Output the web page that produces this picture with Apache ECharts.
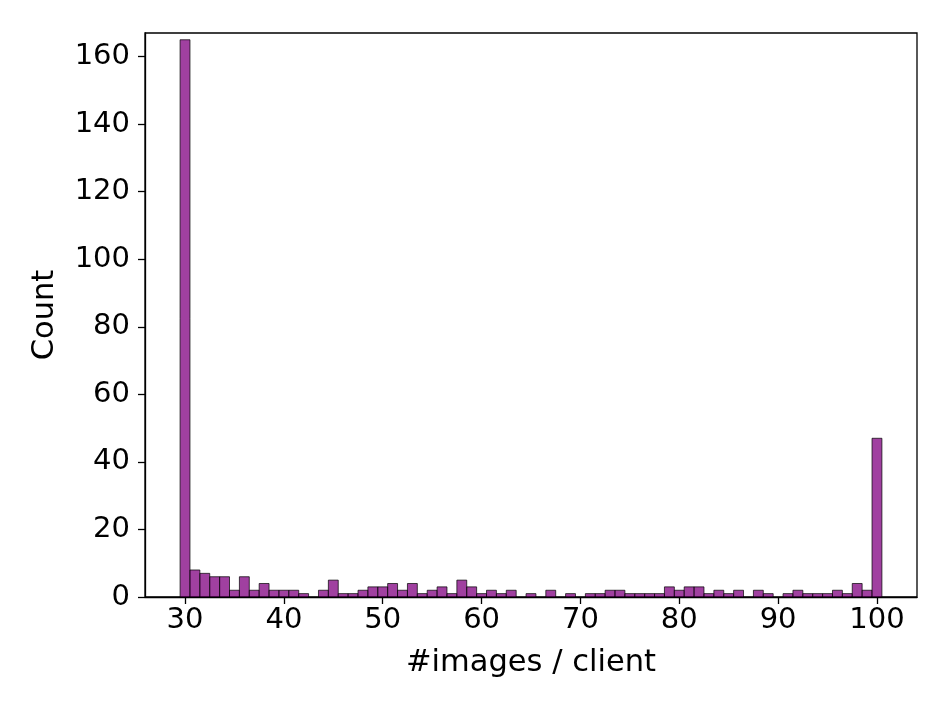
<!DOCTYPE html>
<html>
<head>
<meta charset="utf-8">
<script src="https://cdn.jsdelivr.net/npm/echarts@6/dist/echarts.min.js"></script>
<style>
html,body{margin:0;padding:0;background:#fff;}
#chart{width:951px;height:713px;}
</style>
</head>
<body>
<div id="chart"></div>
<script>
// Histogram bins centred on integer #images values (bin width 1)
const binCenters = [];
for (let v = 30; v <= 100; v++) binCenters.push(v);
const counts = [
  165, 8, 7, 6, 6, 2, 6, 2, 4, 2,   // 30-39
  2, 2, 1, 0, 2, 5, 1, 1, 2, 3,     // 40-49
  3, 4, 2, 4, 1, 2, 3, 1, 5, 3,     // 50-59
  1, 2, 1, 2, 0, 1, 0, 2, 0, 1,     // 60-69
  0, 1, 1, 2, 2, 1, 1, 1, 1, 3,     // 70-79
  2, 3, 3, 1, 2, 1, 2, 0, 2, 1,     // 80-89
  0, 1, 2, 1, 1, 1, 2, 1, 4, 2,     // 90-99
  47                                // 100
];
const xTicks = [30, 40, 50, 60, 70, 80, 90, 100];
const yTicks = [0, 20, 40, 60, 80, 100, 120, 140, 160];
const xTitle = '#images / client';
const yTitle = 'Count';

const data = binCenters.map((c, i) => [c - 0.5, c + 0.5, counts[i]]);
const FONT = 'DejaVu Sans';

const chart = echarts.init(document.getElementById('chart'), null, {renderer: 'canvas'});
chart.setOption({
  animation: false,
  backgroundColor: '#fff',
  grid: {left: 145, right: 34, top: 33, bottom: 116, show: true, borderColor: '#000', borderWidth: 1.3, backgroundColor: 'transparent'},
  xAxis: {
    type: 'value', min: 25.95, max: 104.05,
    name: xTitle, nameLocation: 'middle', nameGap: 51,
    nameTextStyle: {fontFamily: FONT, fontSize: 30.5, color: '#000'},
    axisLine: {show: true, lineStyle: {color: '#000', width: 1.3}},
    axisTick: {show: true, customValues: xTicks, length: 7, lineStyle: {color: '#000', width: 1.3}},
    axisLabel: {customValues: xTicks, fontFamily: FONT, fontSize: 29, color: '#000', margin: 9},
    splitLine: {show: false}
  },
  yAxis: {
    type: 'value', min: 0, max: 167,
    name: yTitle, nameLocation: 'middle', nameGap: 84, nameRotate: 90,
    nameTextStyle: {fontFamily: FONT, fontSize: 30.5, color: '#000'},
    axisLine: {show: true, lineStyle: {color: '#000', width: 1.3}},
    axisTick: {show: true, customValues: yTicks, length: 7, lineStyle: {color: '#000', width: 1.3}},
    axisLabel: {customValues: yTicks, fontFamily: FONT, fontSize: 29, color: '#000', margin: 15},
    splitLine: {show: false}
  },
  series: [{
    type: 'custom',
    data: data,
    encode: {x: [0, 1], y: 2},
    renderItem: function (params, api) {
      const p0 = api.coord([api.value(0), 0]);
      const p1 = api.coord([api.value(1), api.value(2)]);
      if (api.value(2) <= 0) return null;
      return {
        type: 'rect',
        shape: {x: p0[0], y: p1[1], width: p1[0] - p0[0], height: p0[1] - p1[1]},
        style: {fill: 'rgba(128,0,128,0.75)', stroke: 'rgba(0,0,0,0.7)', lineWidth: 1}
      };
    }
  }]
});
</script>
</body>
</html>
